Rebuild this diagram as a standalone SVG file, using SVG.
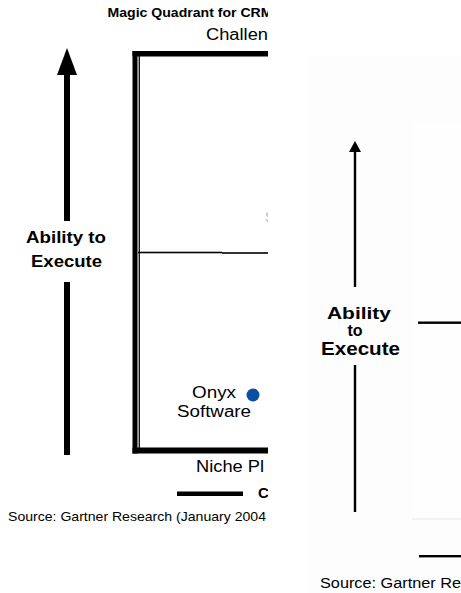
<svg xmlns="http://www.w3.org/2000/svg" width="461" height="593" viewBox="0 0 461 593">
<style>
.t{font-family:"Liberation Sans",Arial,sans-serif;fill:#000}
.b{font-weight:bold}
.bar{fill:#000}
</style>
<defs>
<clipPath id="lclip"><rect x="0" y="0" width="268" height="593"/></clipPath>
</defs>
<rect x="0" y="0" width="461" height="593" fill="#fff"/>
<rect x="308" y="56" width="153" height="537" fill="#fdfdfd"/>
<rect x="413" y="123" width="48" height="396" fill="#fefefe"/>

<g id="left-panel" clip-path="url(#lclip)">
  <g id="title"><text class="t b" x="107.5" y="17" font-size="12" textLength="165" lengthAdjust="spacingAndGlyphs">Magic Quadrant for CRM</text></g>
  <g id="challengers"><text class="t" x="206" y="40" font-size="16" textLength="62" lengthAdjust="spacingAndGlyphs">Challen</text></g>
  <g id="quadrant-box">
    <rect class="bar" x="132.5" y="51" width="136" height="5.5"/>
    <rect class="bar" x="132.5" y="51" width="5" height="402.5"/>
    <rect class="bar" x="132.5" y="447.5" width="136" height="6"/>
    <rect class="bar" x="138.6" y="56" width="1.3" height="392"/>
    <rect class="bar" x="138" y="251.7" width="84" height="1.6"/>
    <rect class="bar" x="222" y="252.2" width="46" height="1.6"/>
  </g>
  <g id="s-fragment"><text class="t" x="265" y="222" font-size="14" style="fill:#bbb">S</text></g>
  <g id="ability-axis-left">
    <polygon class="bar" points="67,48 57,75 77,75"/>
    <rect class="bar" x="64" y="74" width="6" height="147"/>
    <rect class="bar" x="64" y="282" width="6" height="173"/>
    <text class="t b" x="26" y="243" font-size="17" textLength="80" lengthAdjust="spacingAndGlyphs">Ability to</text>
    <text class="t b" x="31" y="267" font-size="17" textLength="71" lengthAdjust="spacingAndGlyphs">Execute</text>
  </g>
  <g id="onyx">
    <circle cx="253" cy="395" r="6.5" fill="#0b4ea2"/>
    <text class="t" x="192" y="398" font-size="16" textLength="44" lengthAdjust="spacingAndGlyphs">Onyx</text>
    <text class="t" x="177" y="417" font-size="16" textLength="74" lengthAdjust="spacingAndGlyphs">Software</text>
  </g>
  <g id="niche"><text class="t" x="196" y="472" font-size="16" textLength="68" lengthAdjust="spacingAndGlyphs">Niche Pl</text></g>
  <g id="vision-axis-left">
    <rect class="bar" x="177" y="491.5" width="66" height="4.5"/>
    <text class="t b" x="258" y="498" font-size="15">C</text>
  </g>
  <g id="source-left"><text class="t" x="8" y="520.5" font-size="13" textLength="258" lengthAdjust="spacingAndGlyphs">Source: Gartner Research (January 2004</text></g>
</g>

<g id="right-panel">
  <g id="ability-axis-right">
    <polygon class="bar" points="355,141 349,152 361,152"/>
    <rect class="bar" x="353.8" y="151" width="2.4" height="136"/>
    <rect class="bar" x="353.8" y="365" width="2.4" height="147"/>
    <text class="t b" x="327" y="319" font-size="17" textLength="64" lengthAdjust="spacingAndGlyphs">Ability</text>
    <text class="t b" x="355" y="336" font-size="16" text-anchor="middle">to</text>
    <text class="t b" x="321" y="355" font-size="18" textLength="79" lengthAdjust="spacingAndGlyphs">Execute</text>
  </g>
  <g id="right-lines">
    <rect class="bar" x="418" y="321.5" width="43" height="2.4"/>
    <rect x="412" y="518.5" width="49" height="1" fill="#e8e8e8"/>
    <rect class="bar" x="419" y="555" width="42" height="2.4"/>
  </g>
  <g id="source-right"><text class="t" x="320" y="588" font-size="14" textLength="141" lengthAdjust="spacingAndGlyphs">Source: Gartner Re</text></g>
</g>
</svg>
